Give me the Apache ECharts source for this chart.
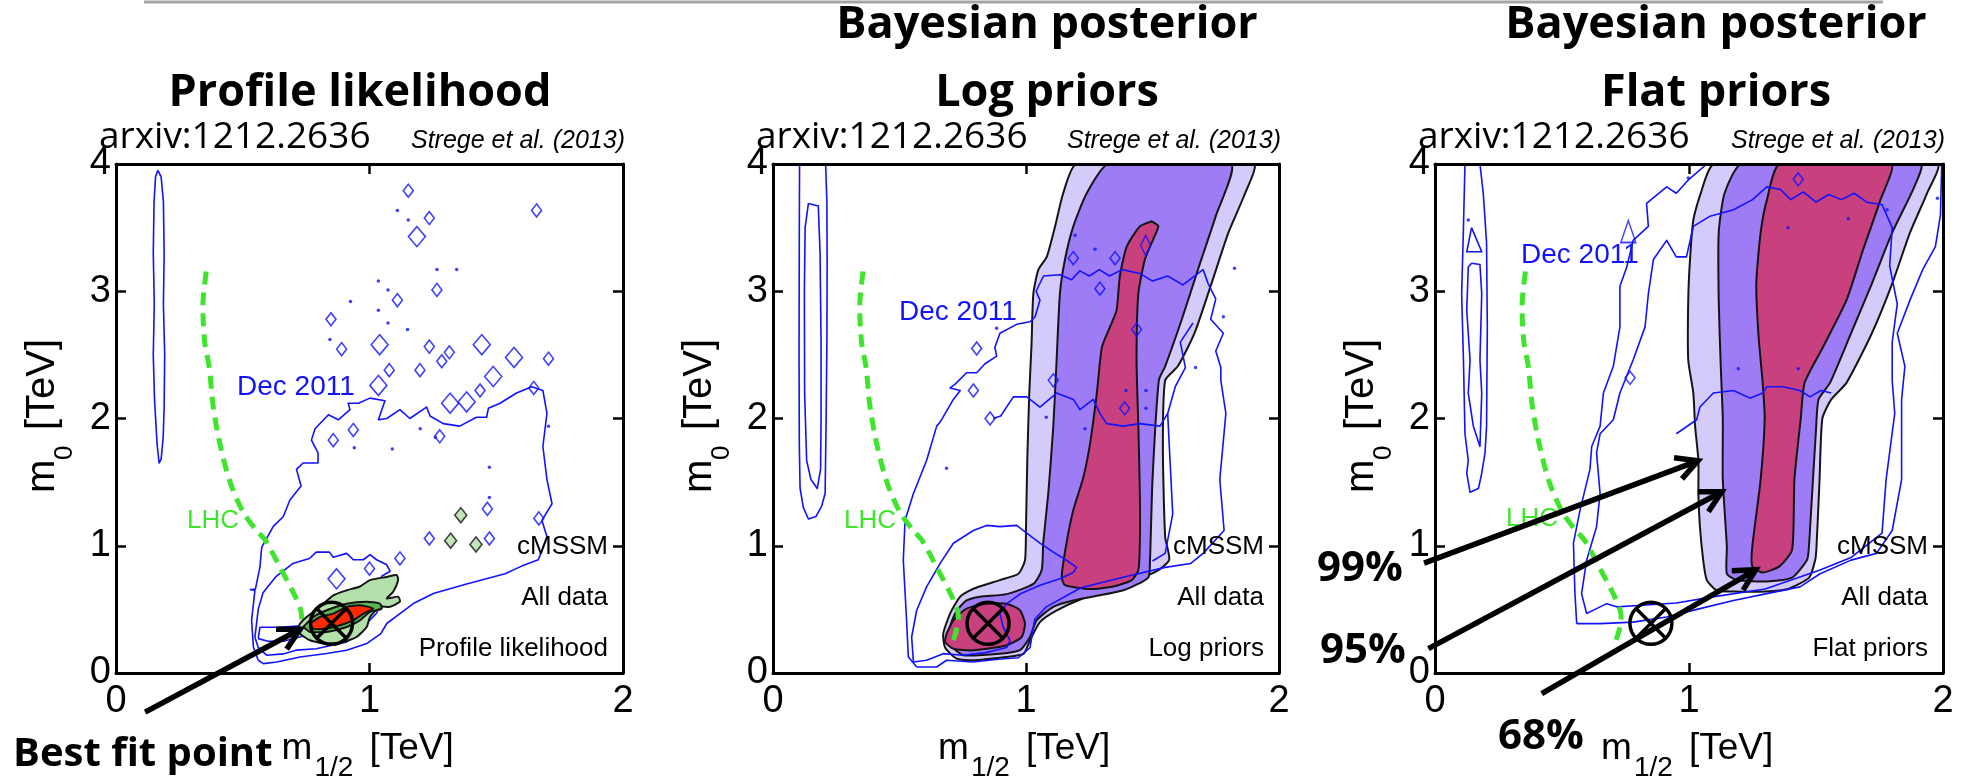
<!DOCTYPE html>
<html>
<head>
<meta charset="utf-8">
<title>cMSSM (m1/2, m0) constraints</title>
<script src="https://cdn.jsdelivr.net/npm/echarts@6/dist/echarts.min.js"></script>
<style>
html,body{margin:0;padding:0;background:#fff;}
#chart{width:1964px;height:784px;}
</style>
</head>
<body>
<div id="chart"></div>
<script>
// ---------- axis ticks ----------
const xTicks = [0, 1, 2];
const yTicks = [0, 1, 2, 3, 4];
const xTickLabels = ['0', '1', '2'];
const yTickLabels = ['0', '1', '2', '3', '4'];

// ---------- texts ----------
const panelTitles = [['Profile likelihood'], ['Bayesian posterior', 'Log priors'], ['Bayesian posterior', 'Flat priors']];
const panelTags = ['Profile likelihood', 'Log priors', 'Flat priors'];
const modelLines = ['cMSSM', 'All data'];
const refText = 'arxiv:1212.2636';
const authorText = 'Strege et al. (2013)';
const decLabel = 'Dec 2011';
const lhcLabel = 'LHC';

// ---------- best fit point (m1/2, m0) in TeV ----------
const bestFit = [0.85, 0.39];

// ---------- LHC exclusion limit ----------
const lhcLine = [[0.356,3.155],[0.343,2.9],[0.35,2.6],[0.368,2.4],[0.383,2.1],[0.41,1.8],[0.45,1.5],[0.5,1.27],[0.55,1.13],[0.59,1.04],[0.655,0.8],[0.7,0.63],[0.728,0.5],[0.733,0.42],[0.72,0.3],[0.70,0.2]];

// ---------- panel 1: profile likelihood ----------
const p1Sliver = [[0.165,3.95],[0.178,3.9],[0.187,3.7],[0.19,3.3],[0.187,2.9],[0.192,2.5],[0.19,2.1],[0.186,1.85],[0.178,1.68],[0.17,1.65],[0.162,1.8],[0.152,2.15],[0.147,2.5],[0.151,2.9],[0.147,3.3],[0.15,3.7],[0.156,3.9],[0.165,3.95]];
const p1DecOuter = [[0.561,0.1],[0.542,0.205],[0.535,0.415],[0.548,0.65],[0.53,0.655],[0.55,0.66],[0.568,0.834],[0.575,0.99],[0.62,1.15],[0.66,1.23],[0.686,1.36],[0.73,1.47],[0.712,1.6],[0.738,1.65],[0.797,1.65],[0.797,1.73],[0.771,1.83],[0.785,1.92],[0.838,2.03],[0.877,1.99],[0.923,2.07],[0.916,2.12],[0.956,2.12],[1.002,2.16],[1.061,2.14],[1.035,1.99],[1.068,2.0],[1.12,2.07],[1.159,2.0],[1.225,2.09],[1.239,2.02],[1.291,1.96],[1.356,1.94],[1.422,2.01],[1.462,2.01],[1.469,2.08],[1.515,2.12],[1.58,2.2],[1.64,2.25],[1.684,2.22],[1.70,2.04],[1.684,1.78],[1.70,1.52],[1.72,1.33],[1.68,1.2],[1.70,1.07],[1.666,0.89],[1.6,0.84],[1.535,0.78],[1.383,0.70],[1.252,0.625],[1.173,0.546],[1.12,0.467],[1.068,0.389],[1.045,0.31],[0.989,0.231],[0.91,0.179],[0.831,0.153],[0.726,0.126],[0.634,0.087],[0.581,0.074],[0.561,0.1]];
const p1DecInner = [[0.548,0.28],[0.561,0.5],[0.58,0.63],[0.632,0.76],[0.697,0.86],[0.763,0.9],[0.79,0.95],[0.842,0.95],[0.857,0.91],[0.91,0.94],[0.936,0.89],[0.976,0.89],[1.002,0.93],[1.028,0.89],[1.068,0.85],[1.081,0.8],[1.048,0.76],[1.048,0.57],[1.028,0.47],[0.989,0.39],[0.949,0.3],[0.91,0.244],[0.857,0.22],[0.79,0.19],[0.713,0.18],[0.66,0.15],[0.594,0.14],[0.561,0.2],[0.548,0.28]];
const p1DecCore = [[0.561,0.27],[0.568,0.36],[0.647,0.36],[0.726,0.37],[0.76,0.33],[0.74,0.29],[0.66,0.25],[0.6,0.25],[0.561,0.27]];
const p1Islands = [[1.153,3.79],[1.236,3.575],[1.659,3.635],[1.266,3.01],[1.11,2.93],[0.848,2.78],[0.89,2.545],[1.078,2.38],[1.199,2.38],[1.236,2.565],[1.285,2.45],[1.315,2.52],[1.436,2.22],[0.936,1.91],[0.857,1.83],[1.706,2.47],[1.648,2.24],[1.277,1.86],[1.465,1.29],[1.236,1.057],[1.473,1.057],[1.668,1.215],[1.12,0.9],[1.0,0.82]];
const p1IslandsLarge = [[1.035,2.26],[1.318,2.12],[1.383,2.13],[1.187,3.43],[1.04,2.58],[1.443,2.58],[1.57,2.48],[1.488,2.33],[0.87,0.74]];
const p1Dots = [[1.11,3.635],[1.153,3.56],[1.266,3.17],[1.344,3.17],[1.035,3.08],[1.073,3.01],[1.035,2.85],[0.925,2.92],[1.073,2.75],[1.15,2.7],[0.844,2.62],[1.2,1.92],[1.09,1.76],[0.94,1.77],[1.26,1.85],[1.473,1.616],[1.706,1.94],[1.473,1.38]];
const p1Fill99 = [[0.72,0.362],[0.726,0.388],[0.752,0.44],[0.805,0.52],[0.857,0.61],[0.91,0.65],[0.962,0.68],[1.002,0.73],[1.068,0.755],[1.107,0.77],[1.113,0.73],[1.094,0.64],[1.068,0.585],[1.113,0.6],[1.12,0.56],[1.08,0.52],[1.041,0.52],[1.002,0.44],[0.989,0.362],[0.949,0.283],[0.897,0.244],[0.831,0.23],[0.765,0.257],[0.726,0.31],[0.72,0.362]];
const p1Fill95 = [[0.739,0.362],[0.778,0.44],[0.831,0.493],[0.91,0.545],[0.989,0.56],[1.041,0.545],[1.048,0.506],[1.002,0.48],[0.962,0.414],[0.91,0.362],[0.831,0.323],[0.765,0.323],[0.739,0.362]];
const p1Fill68 = [[0.765,0.388],[0.805,0.44],[0.857,0.467],[0.91,0.52],[0.962,0.533],[1.015,0.506],[0.976,0.467],[0.936,0.414],[0.883,0.375],[0.831,0.349],[0.778,0.349],[0.765,0.388]];
const p1GreenIslands = [[1.36,1.24],[1.32,1.04],[1.42,1.01]];

// ---------- panel 2: posterior, log priors ----------
const p2SliverOuter = [[0.105,4.0],[0.104,3.5],[0.103,2.5],[0.104,1.8],[0.107,1.45],[0.12,1.3],[0.14,1.21],[0.17,1.23],[0.192,1.31],[0.206,1.41],[0.21,2.0],[0.213,2.6],[0.214,3.2],[0.213,3.7],[0.208,4.0]];
const p2SliverInner = [[0.14,3.69],[0.179,3.67],[0.186,3.3],[0.19,2.6],[0.19,2.0],[0.188,1.6],[0.175,1.45],[0.15,1.52],[0.133,1.67],[0.125,2.2],[0.124,3.0],[0.127,3.5],[0.14,3.69]];
const p2Fill99 = [[1.2,4.0],[1.147,3.77],[1.115,3.51],[1.082,3.27],[1.049,3.17],[1.029,2.98],[1.022,2.59],[1.013,2.2],[1.005,1.67],[1.0,1.15],[0.996,0.886],[0.97,0.78],[0.897,0.73],[0.79,0.66],[0.74,0.6],[0.70,0.467],[0.673,0.31],[0.68,0.2],[0.726,0.113],[0.79,0.1],[0.92,0.126],[0.99,0.15],[1.016,0.257],[1.055,0.4],[1.12,0.49],[1.217,0.58],[1.383,0.69],[1.517,0.8],[1.566,0.89],[1.55,1.07],[1.541,1.78],[1.55,2.3],[1.6,2.41],[1.666,2.67],[1.733,3.06],[1.80,3.46],[1.866,3.77],[1.9,4.0]];
const p2Fill95 = [[1.325,4.0],[1.24,3.77],[1.187,3.51],[1.154,3.25],[1.134,2.98],[1.121,2.46],[1.108,1.94],[1.088,1.41],[1.068,1.02],[1.062,0.81],[1.029,0.70],[0.924,0.62],[0.818,0.6],[0.765,0.57],[0.726,0.49],[0.70,0.36],[0.713,0.2],[0.752,0.14],[0.897,0.152],[0.976,0.18],[1.016,0.283],[1.042,0.414],[1.108,0.52],[1.187,0.57],[1.385,0.65],[1.483,0.75],[1.49,0.88],[1.5,1.52],[1.525,2.3],[1.55,2.41],[1.616,2.78],[1.683,3.19],[1.75,3.59],[1.81,4.0]];
const p2Fill68 = [[1.497,3.55],[1.523,3.51],[1.503,3.41],[1.47,3.25],[1.444,2.98],[1.437,2.46],[1.444,1.94],[1.45,1.41],[1.45,1.02],[1.444,0.81],[1.418,0.73],[1.345,0.68],[1.253,0.66],[1.154,0.69],[1.141,0.755],[1.16,1.02],[1.187,1.28],[1.227,1.54],[1.253,1.8],[1.28,2.2],[1.3,2.56],[1.332,2.72],[1.358,2.85],[1.371,3.12],[1.398,3.35],[1.45,3.51],[1.497,3.55]];
const p2Blob68 = [[0.686,0.31],[0.713,0.414],[0.765,0.506],[0.844,0.545],[0.924,0.545],[0.976,0.493],[0.996,0.388],[0.983,0.283],[0.924,0.218],[0.792,0.178],[0.713,0.19],[0.68,0.244],[0.686,0.31]];
const p2DecOuter = [[0.568,0.047],[0.535,0.126],[0.528,0.414],[0.515,0.886],[0.522,1.2],[0.555,1.41],[0.607,1.67],[0.647,1.94],[0.66,1.97],[0.713,2.15],[0.74,2.22],[0.70,2.24],[0.72,2.27],[0.765,2.36],[0.805,2.36],[0.838,2.43],[0.884,2.49],[0.877,2.56],[0.897,2.67],[0.963,2.74],[1.016,2.76],[1.036,2.8],[1.055,2.93],[1.04,3.0],[1.069,3.12],[1.134,3.13],[1.18,3.09],[1.213,3.16],[1.25,3.12],[1.29,3.17],[1.33,3.12],[1.38,3.17],[1.45,3.14],[1.5,3.08],[1.56,3.12],[1.62,3.05],[1.7,3.17],[1.72,3.06],[1.75,2.94],[1.73,2.78],[1.78,2.67],[1.75,2.53],[1.77,2.4],[1.77,2.3],[1.79,2.04],[1.766,1.52],[1.783,1.12],[1.7,0.94],[1.65,0.86],[1.55,0.83],[1.38,0.75],[1.217,0.67],[1.08,0.52],[1.034,0.42],[1.016,0.2],[0.97,0.12],[0.9,0.11],[0.79,0.087],[0.686,0.1],[0.647,0.047],[0.568,0.047]];
const p2DecInner = [[0.555,0.087],[0.548,0.283],[0.568,0.493],[0.607,0.677],[0.66,0.86],[0.713,1.02],[0.792,1.12],[0.844,1.16],[0.897,1.15],[0.963,1.16],[1.003,1.1],[1.055,1.02],[1.108,0.95],[1.16,0.886],[1.2,0.83],[1.187,0.79],[1.134,0.74],[1.055,0.69],[0.976,0.62],[0.924,0.545],[0.897,0.467],[0.91,0.36],[0.937,0.257],[0.924,0.2],[0.84,0.16],[0.75,0.14],[0.673,0.152],[0.607,0.1],[0.555,0.087]];
const p2DecMid = [[0.87,2.0],[0.9,2.02],[0.95,2.17],[1.003,2.17],[1.055,2.09],[1.121,2.2],[1.187,2.15],[1.213,2.07],[1.266,2.15],[1.292,2.04],[1.319,1.96],[1.385,1.94],[1.45,1.96],[1.53,1.94],[1.56,2.04],[1.59,2.25],[1.63,2.4],[1.61,2.6],[1.66,2.75]];
const p2DecRight = [[1.56,2.04],[1.57,1.64],[1.58,1.25],[1.55,0.94],[1.5,0.88]];
const p2Islands = [[1.187,3.26],[1.352,3.26],[1.292,3.02],[1.437,2.7],[1.108,2.3],[1.39,2.08],[0.805,2.55],[0.858,2.0],[0.792,2.22]];
const p2IslandsLarge = [[1.473,3.36]];
const p2Dots = [[1.273,3.33],[1.194,3.44],[0.884,2.71],[1.395,2.22],[1.474,2.22],[1.474,2.08],[1.08,2.01],[1.233,1.92],[0.686,1.61],[1.824,3.18],[1.78,2.8],[1.67,2.4]];

// ---------- panel 3: posterior, flat priors ----------
const p3SliverOuter = [[0.118,4.0],[0.112,3.5],[0.105,2.98],[0.112,2.46],[0.118,1.88],[0.131,1.67],[0.125,1.57],[0.138,1.42],[0.171,1.45],[0.184,1.57],[0.197,1.73],[0.203,1.94],[0.206,2.72],[0.203,3.38],[0.19,3.77],[0.177,4.0]];
const p3SliverInnerA = [[0.144,3.5],[0.184,3.31],[0.125,3.31],[0.144,3.5]];
const p3SliverInnerB = [[0.144,3.22],[0.177,3.21],[0.184,2.98],[0.177,2.46],[0.184,2.2],[0.177,1.78],[0.151,1.94],[0.131,2.2],[0.138,2.46],[0.125,2.85],[0.131,3.19],[0.144,3.22]];
const p3Fill99 = [[1.10,4.0],[1.043,3.75],[1.017,3.56],[1.004,3.25],[0.997,2.93],[0.997,2.46],[1.017,2.2],[1.024,1.94],[1.037,1.67],[1.037,1.41],[1.043,1.15],[1.056,0.886],[1.07,0.73],[1.109,0.65],[1.175,0.64],[1.306,0.64],[1.39,0.66],[1.473,0.75],[1.497,0.89],[1.502,0.99],[1.514,1.52],[1.525,2.0],[1.56,2.15],[1.62,2.28],[1.72,2.67],[1.80,3.06],[1.87,3.46],[1.937,3.77],[1.978,4.0]];
const p3Fill95 = [[1.207,4.0],[1.14,3.77],[1.117,3.46],[1.117,2.93],[1.125,2.41],[1.133,2.0],[1.133,1.52],[1.149,0.99],[1.149,0.78],[1.19,0.73],[1.306,0.72],[1.406,0.75],[1.465,0.89],[1.472,0.99],[1.48,1.25],[1.50,1.91],[1.51,2.15],[1.555,2.28],[1.638,2.67],[1.72,3.06],[1.80,3.46],[1.887,3.82],[1.912,4.0]];
const p3Fill68 = [[1.357,4.0],[1.307,3.72],[1.282,3.46],[1.265,3.06],[1.273,2.67],[1.29,2.28],[1.298,2.0],[1.282,1.52],[1.249,0.99],[1.249,0.84],[1.29,0.79],[1.357,0.84],[1.406,0.97],[1.415,1.52],[1.44,2.0],[1.455,2.28],[1.522,2.54],[1.62,2.93],[1.686,3.33],[1.754,3.72],[1.796,4.0]];
const p3DecOuter = [[0.558,0.388],[0.551,0.624],[0.545,1.02],[0.571,1.28],[0.61,1.6],[0.617,1.78],[0.65,1.94],[0.663,2.2],[0.702,2.41],[0.728,2.72],[0.728,3.04],[0.755,3.19],[0.78,3.4],[0.84,3.51],[0.833,3.69],[0.912,3.82],[0.95,3.77],[1.0,3.88],[1.07,4.0],[1.995,4.0],[1.99,3.6],[1.97,3.35],[1.92,3.17],[1.87,2.93],[1.82,2.67],[1.85,2.41],[1.837,2.15],[1.837,1.52],[1.80,1.12],[1.738,0.94],[1.638,0.887],[1.516,0.78],[1.437,0.677],[1.306,0.624],[1.175,0.57],[1.043,0.506],[0.912,0.44],[0.78,0.40],[0.65,0.388],[0.558,0.388]];
const p3DecInner = [[0.597,0.467],[0.577,0.624],[0.597,0.886],[0.636,1.15],[0.65,1.41],[0.636,1.73],[0.65,1.88],[0.702,1.99],[0.728,2.2],[0.78,2.46],[0.827,2.72],[0.84,2.98],[0.86,3.25],[0.912,3.4],[0.95,3.27],[0.99,3.27],[1.017,3.51],[1.083,3.59],[1.175,3.64],[1.25,3.72],[1.306,3.82],[1.36,3.8],[1.4,3.72],[1.45,3.78],[1.5,3.7],[1.55,3.76],[1.6,3.72],[1.65,3.77],[1.7,3.7],[1.76,3.68],[1.8,3.5],[1.79,3.2],[1.82,2.9],[1.8,2.6],[1.8,2.3],[1.81,2.04],[1.776,1.52],[1.76,1.1],[1.64,0.91],[1.516,0.81],[1.3,0.66],[1.1,0.6],[0.95,0.55],[0.8,0.53],[0.715,0.52],[0.676,0.545],[0.63,0.5],[0.597,0.467]];
const p3DecMid = [[0.95,1.88],[1.03,1.99],[1.043,2.09],[1.096,2.2],[1.175,2.22],[1.24,2.16],[1.29,2.2],[1.306,2.25],[1.37,2.25],[1.437,2.22],[1.476,2.17],[1.52,2.22],[1.56,2.2]];
const p3Islands = [[0.768,2.32],[1.43,3.88]];
const p3IslandsLarge = [[0.761,3.47]];
const p3Dots = [[0.997,3.89],[1.39,3.5],[1.194,2.39],[1.43,2.39],[1.978,3.73],[1.78,3.64],[1.627,3.57],[0.131,3.56]];

// ---------- layout ----------
const PLOT_TOP = 164, PLOT_H = 509;
const GRIDS = [{ left: 116, width: 507 }, { left: 773, width: 506 }, { left: 1435, width: 508 }];
const SANS = '"Liberation Sans", Arial, Helvetica, sans-serif';
const HEAD = '"Open Sans", "Noto Sans", sans-serif';
const COL = {
  blue: '#1212ff', lhc: '#3fe52c', lav: '#d5cbfa', violet: '#9d7cf6', crimson: '#c8407e',
  edge: '#151515', lgreen: '#b3dfab', mgreen: '#5bb553', red: '#ff2a00'
};

const chart = echarts.init(document.getElementById('chart'), null, { renderer: 'canvas' });

// polygon / polyline through the cartesian scales of one panel
function pathSeries(p, pts, o) {
  return {
    type: 'custom', coordinateSystem: 'cartesian2d', xAxisIndex: p * 2, yAxisIndex: p * 2,
    clip: true, silent: true, z: o.z, data: pts,
    renderItem: function (params, api) {
      if (params.dataIndex !== 0) return null;
      const out = [];
      for (let i = 0; i < pts.length; i++) out.push(api.coord([api.value(0, i), api.value(1, i)]));
      if (o.fill) {
        return { type: 'polygon', shape: { points: out, smooth: o.smooth || 0 },
          style: { fill: o.fill, stroke: o.stroke || null, lineWidth: o.width || 0, lineJoin: 'round' } };
      }
      return { type: 'polyline', shape: { points: out, smooth: o.smooth || 0 },
        style: { fill: null, stroke: o.stroke, lineWidth: o.width, lineDash: o.dash || null, lineJoin: 'round' } };
    }
  };
}
function islandSeries(p, pts, size, o) {
  return {
    type: 'scatter', xAxisIndex: p * 2, yAxisIndex: p * 2, silent: true, z: o.z || 3,
    data: pts, symbol: o.symbol || 'diamond', symbolSize: size,
    itemStyle: { color: o.fill || 'rgba(0,0,0,0)', borderColor: o.stroke || COL.blue, borderWidth: o.width == null ? 1.6 : o.width }
  };
}
function markerSeries(p) {
  return {
    type: 'custom', coordinateSystem: 'cartesian2d', xAxisIndex: p * 2, yAxisIndex: p * 2,
    silent: true, z: 8, data: [bestFit],
    renderItem: function (params, api) {
      const c = api.coord([api.value(0), api.value(1)]);
      const r = 21, d = r * 0.7071;
      const st = { stroke: '#000', lineWidth: 3.5, fill: null };
      return { type: 'group', children: [
        { type: 'circle', shape: { cx: c[0], cy: c[1], r: r }, style: st },
        { type: 'line', shape: { x1: c[0] - d, y1: c[1] - d, x2: c[0] + d, y2: c[1] + d }, style: st },
        { type: 'line', shape: { x1: c[0] - d, y1: c[1] + d, x2: c[0] + d, y2: c[1] - d }, style: st }
      ] };
    }
  };
}
const blueLine = (p, pts) => pathSeries(p, pts, { stroke: COL.blue, width: 1.6, z: 3 });
const lhcSeries = (p, pts, z) => pathSeries(p, pts, { stroke: COL.lhc, width: 5, dash: [13, 8], smooth: 0.3, z: z });
const fillSeries = (p, pts, col, z) => pathSeries(p, pts, { fill: col, stroke: COL.edge, width: 2, smooth: 0.2, z: z });

// axes: bottom/left carry labels, top/right only close the frame
const xAxis = [], yAxis = [];
const frameLine = { show: true, onZero: false, lineStyle: { color: '#000', width: 3 } };
const frameTick = { show: true, inside: true, length: 10, lineStyle: { color: '#000', width: 2.5 } };
GRIDS.forEach(function (g, p) {
  xAxis.push({ type: 'value', gridIndex: p, position: 'bottom', min: 0, max: 2, interval: 1, z: 10,
    splitLine: { show: false }, axisLine: frameLine, axisTick: frameTick,
    axisLabel: { margin: 10, color: '#000', fontSize: 38, fontFamily: SANS, formatter: v => xTickLabels[xTicks.indexOf(v)] } });
  xAxis.push({ type: 'value', gridIndex: p, position: 'top', min: 0, max: 2, interval: 1, z: 10,
    splitLine: { show: false }, axisLine: frameLine, axisTick: frameTick, axisLabel: { show: false } });
  yAxis.push({ type: 'value', gridIndex: p, position: 'left', min: 0, max: 4, interval: 1, z: 10,
    splitLine: { show: false }, axisLine: frameLine, axisTick: frameTick,
    axisLabel: { margin: 5, color: '#000', fontSize: 38, fontFamily: SANS, formatter: v => yTickLabels[yTicks.indexOf(v)] } });
  yAxis.push({ type: 'value', gridIndex: p, position: 'right', min: 0, max: 4, interval: 1, z: 10,
    splitLine: { show: false }, axisLine: frameLine, axisTick: frameTick, axisLabel: { show: false } });
});

const series = [
  // panel 1
  blueLine(0, p1Sliver), blueLine(0, p1DecOuter), blueLine(0, p1DecInner), blueLine(0, p1DecCore),
  islandSeries(0, p1Islands, [10, 13], {}), islandSeries(0, p1IslandsLarge, [17, 20], {}),
  islandSeries(0, p1Dots, 3.5, { symbol: 'circle', fill: COL.blue, width: 0 }),
  lhcSeries(0, lhcLine.slice(0, 14), 3.5),
  fillSeries(0, p1Fill99, COL.lgreen, 4), fillSeries(0, p1Fill95, COL.mgreen, 4), fillSeries(0, p1Fill68, COL.red, 4),
  islandSeries(0, p1GreenIslands, [12, 15], { fill: COL.lgreen, stroke: COL.edge, width: 1.6, z: 4 }),
  markerSeries(0),
  // panel 2
  fillSeries(1, p2Fill99, COL.lav, 2), fillSeries(1, p2Fill95, COL.violet, 2),
  fillSeries(1, p2Fill68, COL.crimson, 2), fillSeries(1, p2Blob68, COL.crimson, 2),
  blueLine(1, p2SliverOuter), blueLine(1, p2SliverInner), blueLine(1, p2DecOuter), blueLine(1, p2DecInner),
  blueLine(1, p2DecMid), blueLine(1, p2DecRight),
  islandSeries(1, p2Islands, [10, 13], {}), islandSeries(1, p2IslandsLarge, [10, 20], {}),
  islandSeries(1, p2Dots, 3.5, { symbol: 'circle', fill: COL.blue, width: 0 }),
  lhcSeries(1, lhcLine, 4),
  markerSeries(1),
  // panel 3
  fillSeries(2, p3Fill99, COL.lav, 2), fillSeries(2, p3Fill95, COL.violet, 2), fillSeries(2, p3Fill68, COL.crimson, 2),
  blueLine(2, p3SliverOuter), blueLine(2, p3SliverInnerA), blueLine(2, p3SliverInnerB),
  blueLine(2, p3DecOuter), blueLine(2, p3DecInner), blueLine(2, p3DecMid),
  islandSeries(2, p3Islands, [10, 13], {}), islandSeries(2, p3IslandsLarge, [15, 22], { symbol: 'triangle' }),
  islandSeries(2, p3Dots, 3.5, { symbol: 'circle', fill: COL.blue, width: 0 }),
  lhcSeries(2, lhcLine, 4),
  markerSeries(2)
];

chart.setOption({
  animation: false,
  backgroundColor: '#fff',
  grid: GRIDS.map(g => ({ left: g.left, top: PLOT_TOP, width: g.width, height: PLOT_H, show: false })),
  xAxis: xAxis, yAxis: yAxis, series: series
});

// ---------- text and annotation layer ----------
function txt(x, base, text, size, o) {
  o = o || {};
  const k = o.head ? 0.388 : 0.347;   // distance of the middle baseline above the alphabetic one
  const font = [o.style, o.weight, size + 'px', o.head ? HEAD : SANS].filter(Boolean).join(' ');
  return { type: 'text', x: x, y: base - k * size, z: 100, silent: true,
    style: { text: text, font: font, fill: o.color || '#000', textAlign: o.align || 'left', textVerticalAlign: 'middle' } };
}
const px = (p, pt) => chart.convertToPixel({ xAxisIndex: p * 2, yAxisIndex: p * 2 }, pt);
function arrow(p, from, to) {
  const a = px(p, from), b = px(p, to);
  const dx = b[0] - a[0], dy = b[1] - a[1], len = Math.hypot(dx, dy);
  const vx = -dx / len, vy = -dy / len, L = 24, t = 28 * Math.PI / 180;
  const w1 = [b[0] + L * (vx * Math.cos(t) - vy * Math.sin(t)), b[1] + L * (vx * Math.sin(t) + vy * Math.cos(t))];
  const w2 = [b[0] + L * (vx * Math.cos(-t) - vy * Math.sin(-t)), b[1] + L * (vx * Math.sin(-t) + vy * Math.cos(-t))];
  const st = { stroke: '#000', lineWidth: 5.5, fill: null };
  return [
    { type: 'line', z: 110, silent: true, shape: { x1: a[0], y1: a[1], x2: b[0], y2: b[1] }, style: st },
    { type: 'polyline', z: 110, silent: true, shape: { points: [w1, b, w2] }, style: Object.assign({ lineJoin: 'miter' }, st) }
  ];
}

const g = [];
// rule across the top of the slide
g.push({ type: 'line', z: 100, silent: true, shape: { x1: 144, y1: 2, x2: 1883, y2: 2 }, style: { stroke: '#a4a4a4', lineWidth: 3 } });

const titleCenters = [360, 1047, 1716];
GRIDS.forEach(function (gr, p) {
  const right = gr.left + gr.width;
  const cx = px(p, [1, 0])[0];
  // headings
  const lines = panelTitles[p];
  if (lines.length === 1) {
    g.push(txt(titleCenters[p], 111, lines[0], 45, { head: true, weight: 'bold', align: 'center' }));
  } else {
    g.push(txt(titleCenters[p], 43, lines[0], 45, { head: true, weight: 'bold', align: 'center' }));
    g.push(txt(titleCenters[p], 111, lines[1], 45, { head: true, weight: 'bold', align: 'center' }));
  }
  g.push(txt(gr.left - 17, 152, refText, 37, { head: true }));
  g.push(txt(right + 2, 150, authorText, 25, { style: 'italic', align: 'right' }));
  // in-plot legend text
  g.push(txt(right - 15, 556, modelLines[0], 26, { align: 'right' }));
  g.push(txt(right - 15, 607, modelLines[1], 26, { align: 'right' }));
  g.push(txt(right - 15, 658, panelTags[p], 26, { align: 'right' }));
  // x axis title m_{1/2} [TeV]
  g.push(txt(cx - 88, 762, 'm', 37));
  g.push(txt(cx - 55, 778, '1/2', 28));
  g.push(txt(cx, 762, '[TeV]', 37));
  // y axis title m_0 [TeV], reading upwards
  g.push({ type: 'group', x: gr.left - 59, y: 493, rotation: Math.PI / 2, z: 100, children: [
    txt(0, 0, 'm', 40), txt(33, 17, '0', 26), txt(63, 0, '[TeV]', 40)
  ] });
});

// contour / limit labels
const decPos = [[237, 397], [899, 322], [1521, 265]];
const lhcPos = [[187, 530], [844, 530], [1506, 528]];
decPos.forEach(d => g.push(txt(d[0], d[1], decLabel, 28, { color: COL.blue })));
lhcPos.forEach(d => g.push(txt(d[0], d[1], lhcLabel, 26, { color: COL.lhc })));

// annotations
g.push(txt(13, 770, 'Best fit point', 40, { head: true, weight: 'bold' }));
g.push(txt(1317, 585, '99%', 42, { head: true, weight: 'bold' }));
g.push(txt(1320, 667, '95%', 42, { head: true, weight: 'bold' }));
g.push(txt(1498, 753, '68%', 42, { head: true, weight: 'bold' }));
[
  [0, [0.115, -0.307], [0.726, 0.344]],
  [2, [-0.043, 0.863], [1.035, 1.667]],
  [2, [-0.026, 0.192], [1.129, 1.424]],
  [2, [0.42, -0.162], [1.263, 0.811]]
].forEach(a => arrow(a[0], a[1], a[2]).forEach(e => g.push(e)));

chart.setOption({ graphic: { elements: g } });
</script>
</body>
</html>
